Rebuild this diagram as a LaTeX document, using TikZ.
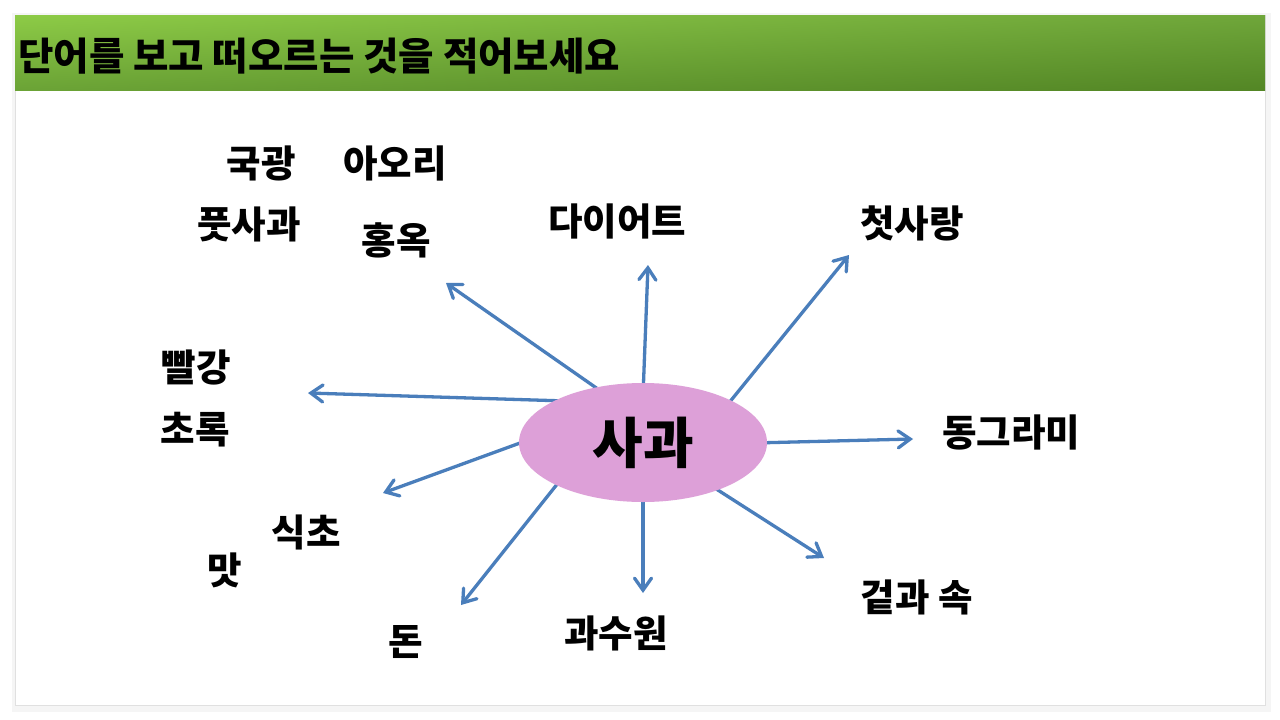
\documentclass[tikz,border=0pt]{standalone}
\usepackage{fontspec}
\setmainfont{Noto Sans CJK KR}
\usetikzlibrary{arrows.meta,shapes.geometric,shadings}
\definecolor{arrowblue}{HTML}{4A7EBB}
\definecolor{ellfill}{HTML}{DDA0D8}
\definecolor{hdrUL}{HTML}{8DCB46}
\definecolor{hdrUR}{HTML}{6FA63A}
\definecolor{hdrLL}{HTML}{6BA336}
\definecolor{hdrLR}{HTML}{538625}
\pgfdeclarelayer{back}
\pgfdeclarelayer{bg}
\pgfsetlayers{back,bg,main}
\tikzset{
  lbl/.style={font=\fontsize{37.5}{40}\selectfont\bfseries, inner sep=0pt, text=black},
  ttl/.style={font=\fontsize{38.5}{42}\selectfont\bfseries, inner sep=0pt, anchor=west, text=black},
  arr/.style={draw=arrowblue, line width=3.3pt, line cap=round, -{Straight Barb[length=12pt,width=17pt,line cap=round]}},
  center/.style={ellipse, fill=ellfill, minimum width=248pt, minimum height=119pt, inner sep=0pt,
    font=\fontsize{55}{60}\selectfont\bfseries}
}
\begin{document}
\begin{tikzpicture}[x=1pt,y=-1pt]
\useasboundingbox (0,0) rectangle (1280,720);
\begin{pgfonlayer}{back}
  \fill[white] (0,0) rectangle (1280,720);
  \fill[black!7] (14,15) rectangle (1269,709);
  \fill[black!4] (12,13) rectangle (1271,712);
  \fill[white] (15,15) rectangle (1265,705);
  \draw[black!12, line width=0.6pt] (15,15) rectangle (1265,705);
  \shade[upper left=hdrUL, upper right=hdrUR, lower left=hdrLL, lower right=hdrLR] (15,15) rectangle (1265,90);
\end{pgfonlayer}

\node[ttl] (title) at (18,56) {단어를 보고 떠오르는 것을 적어보세요};

\node[center] (apple) at (643,442.5) {사과};

\node[lbl] (gukgwang) at (261,163) {국광};
\node[lbl] (aori) at (395,163) {아오리};
\node[lbl] (putsagwa) at (249,224) {풋사과};
\node[lbl] (hongok) at (396,240) {홍옥};
\node[lbl] (diet) at (617,221) {다이어트};
\node[lbl] (firstlove) at (912,223) {첫사랑};
\node[lbl] (red) at (196,367) {빨강};
\node[lbl] (green) at (195,430) {초록};
\node[lbl] (circle) at (1011,432) {동그라미};
\node[lbl] (vinegar) at (306,532) {식초};
\node[lbl] (taste) at (225,570) {맛};
\node[lbl] (money) at (406,642) {돈};
\node[lbl] (orchard) at (616,633) {과수원};
\node[lbl] (outin) at (917,597) {겉과 속};

\coordinate (s1) at (605,394);  \coordinate (e1) at (446,283);
\coordinate (s2) at (643,396);  \coordinate (e2) at (648,265);
\coordinate (s3) at (724,409);  \coordinate (e3) at (849,255);
\coordinate (s4) at (566,401);  \coordinate (e4) at (308,393);
\coordinate (s5) at (531,439);  \coordinate (e5) at (383,493);
\coordinate (s6) at (562,478);  \coordinate (e6) at (461,605);
\coordinate (s7) at (643,490);  \coordinate (e7) at (643,593);
\coordinate (s8) at (710,485);  \coordinate (e8) at (824,558);
\coordinate (s9) at (754,443);  \coordinate (e9) at (913,439);

\begin{pgfonlayer}{bg}
  \foreach \i in {1,...,9} { \draw[arr] (s\i) -- (e\i); }
\end{pgfonlayer}
\end{tikzpicture}
\end{document}
